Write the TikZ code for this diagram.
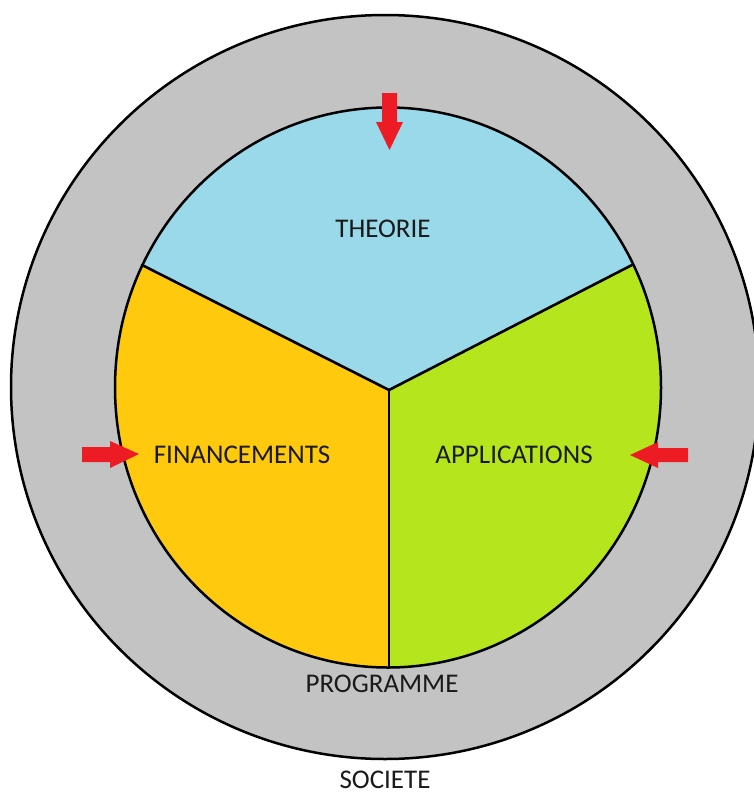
\documentclass[tikz,border=0pt]{standalone}
\usepackage{fontspec}
\setmainfont{Carlito}
\usetikzlibrary{calc}
\definecolor{SocieteColor}{RGB}{195,195,195}
\definecolor{TheorieColor}{RGB}{153,217,234}
\definecolor{FinanceColor}{RGB}{255,201,14}
\definecolor{ApplicationColor}{RGB}{181,230,29}
\definecolor{PushColor}{RGB}{237,28,36}
\definecolor{LabelColor}{RGB}{26,26,26}
\tikzstyle{ring-border}=[draw=black, line width=2.5pt]
\tikzstyle{sector-line}=[draw=black, line width=2.6pt, line cap=round]
\tikzstyle{push-arrow}=[fill=PushColor, draw=none]
\tikzstyle{label}=[anchor=base, inner sep=0pt, text=LabelColor,
                   font=\fontsize{27}{30}\selectfont]

\begin{document}
\begin{tikzpicture}[x=1pt, y=-1pt]
    \useasboundingbox (0,0) rectangle (753,795);

    % Rings
    % --------------------------------------------------------------------------
    \filldraw[ring-border, fill=SocieteColor] (385,387) ellipse [x radius=374, y radius=372];
    \fill[TheorieColor] (388,387.5) ellipse [x radius=273, y radius=280];

    \coordinate (hub)       at (389,390);
    \coordinate (cut_left)  at (142,265);
    \coordinate (cut_right) at (632,265);
    \coordinate (cut_down)  at (389,667.5);

    \begin{scope}
        \clip (388,387.5) ellipse [x radius=273, y radius=280];
        \fill[FinanceColor]     (hub) -- ($(hub)!2!(cut_left)$)  -- (-110,800) -- (389,800) -- cycle;
        \fill[ApplicationColor] (hub) -- ($(hub)!2!(cut_right)$) -- (880,800)  -- (389,800) -- cycle;
    \end{scope}

    \draw[sector-line] (hub) -- (cut_left);
    \draw[sector-line] (hub) -- (cut_right);
    \draw[sector-line] (hub) -- (cut_down);
    \draw[ring-border] (388,387.5) ellipse [x radius=273, y radius=280];

    % Labels
    % --------------------------------------------------------------------------
    \node at (383, 237) (theorie)      [label] {THEORIE};
    \node at (242, 463) (financements) [label] {FINANCEMENTS};
    \node at (514, 463) (applications) [label] {APPLICATIONS};
    \node at (382, 692) (programme)    [label] {PROGRAMME};
    \node at (385, 788) (societe)      [label] {SOCIETE};

    % Arrows
    % --------------------------------------------------------------------------
    \fill[push-arrow] (382,93) -- (397,93) -- (397,122) -- (403,122) -- (389.5,150)
                      -- (376,122) -- (382,122) -- cycle;
    \fill[push-arrow] (82,447) -- (110,447) -- (110,441) -- (139,454)
                      -- (110,468) -- (110,462) -- (82,462) -- cycle;
    \fill[push-arrow] (688,448) -- (658,448) -- (658,442) -- (630,455)
                      -- (658,468) -- (658,462) -- (688,462) -- cycle;
\end{tikzpicture}
\end{document}
